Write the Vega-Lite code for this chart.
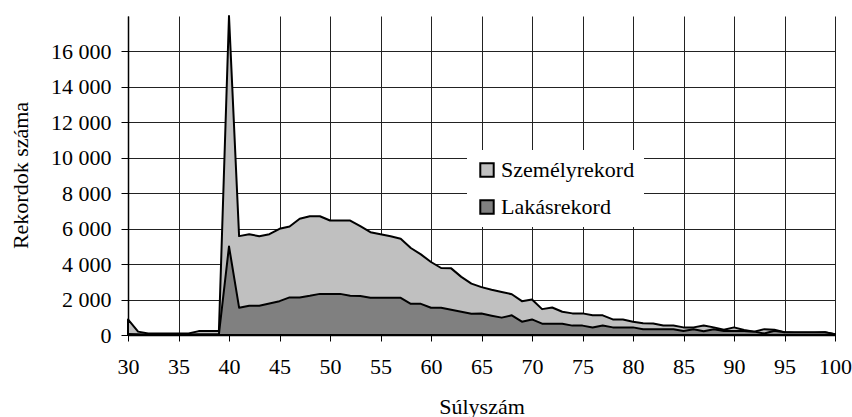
{
  "$schema": "https://vega.github.io/schema/vega-lite/v6.json",
  "width": 707,
  "height": 319,
  "autosize": "none",
  "padding": {"left": 128, "top": 16, "right": 17, "bottom": 82},
  "background": "white",
  "data": {
    "values": [
      {"w": 30, "szemely": 880, "lakas": 50},
      {"w": 31, "szemely": 190, "lakas": 40},
      {"w": 32, "szemely": 90, "lakas": 30},
      {"w": 33, "szemely": 90, "lakas": 30},
      {"w": 34, "szemely": 90, "lakas": 30},
      {"w": 35, "szemely": 90, "lakas": 30},
      {"w": 36, "szemely": 90, "lakas": 30},
      {"w": 37, "szemely": 220, "lakas": 40},
      {"w": 38, "szemely": 220, "lakas": 40},
      {"w": 39, "szemely": 220, "lakas": 40},
      {"w": 40, "szemely": 18000, "lakas": 5000},
      {"w": 41, "szemely": 5580, "lakas": 1540},
      {"w": 42, "szemely": 5690, "lakas": 1650},
      {"w": 43, "szemely": 5570, "lakas": 1650},
      {"w": 44, "szemely": 5690, "lakas": 1780},
      {"w": 45, "szemely": 5990, "lakas": 1910},
      {"w": 46, "szemely": 6120, "lakas": 2120},
      {"w": 47, "szemely": 6560, "lakas": 2120},
      {"w": 48, "szemely": 6700, "lakas": 2210},
      {"w": 49, "szemely": 6700, "lakas": 2320},
      {"w": 50, "szemely": 6460, "lakas": 2320},
      {"w": 51, "szemely": 6460, "lakas": 2320},
      {"w": 52, "szemely": 6460, "lakas": 2210},
      {"w": 53, "szemely": 6140, "lakas": 2200},
      {"w": 54, "szemely": 5800, "lakas": 2100},
      {"w": 55, "szemely": 5690, "lakas": 2100},
      {"w": 56, "szemely": 5570, "lakas": 2100},
      {"w": 57, "szemely": 5430, "lakas": 2100},
      {"w": 58, "szemely": 4910, "lakas": 1760},
      {"w": 59, "szemely": 4550, "lakas": 1760},
      {"w": 60, "szemely": 4120, "lakas": 1540},
      {"w": 61, "szemely": 3780, "lakas": 1540},
      {"w": 62, "szemely": 3760, "lakas": 1420},
      {"w": 63, "szemely": 3280, "lakas": 1310},
      {"w": 64, "szemely": 2900, "lakas": 1200},
      {"w": 65, "szemely": 2700, "lakas": 1210},
      {"w": 66, "szemely": 2550, "lakas": 1090},
      {"w": 67, "szemely": 2430, "lakas": 980},
      {"w": 68, "szemely": 2300, "lakas": 1110},
      {"w": 69, "szemely": 1910, "lakas": 750},
      {"w": 70, "szemely": 2000, "lakas": 880},
      {"w": 71, "szemely": 1460, "lakas": 640},
      {"w": 72, "szemely": 1550, "lakas": 640},
      {"w": 73, "szemely": 1310, "lakas": 640},
      {"w": 74, "szemely": 1220, "lakas": 530},
      {"w": 75, "szemely": 1220, "lakas": 530},
      {"w": 76, "szemely": 1120, "lakas": 420},
      {"w": 77, "szemely": 1110, "lakas": 540},
      {"w": 78, "szemely": 880, "lakas": 430},
      {"w": 79, "szemely": 880, "lakas": 430},
      {"w": 80, "szemely": 750, "lakas": 430},
      {"w": 81, "szemely": 660, "lakas": 320},
      {"w": 82, "szemely": 650, "lakas": 320},
      {"w": 83, "szemely": 540, "lakas": 320},
      {"w": 84, "szemely": 530, "lakas": 320},
      {"w": 85, "szemely": 430, "lakas": 220},
      {"w": 86, "szemely": 430, "lakas": 330},
      {"w": 87, "szemely": 540, "lakas": 210},
      {"w": 88, "szemely": 430, "lakas": 330},
      {"w": 89, "szemely": 300, "lakas": 220},
      {"w": 90, "szemely": 430, "lakas": 220},
      {"w": 91, "szemely": 280, "lakas": 220},
      {"w": 92, "szemely": 190, "lakas": 190},
      {"w": 93, "szemely": 330, "lakas": 80},
      {"w": 94, "szemely": 300, "lakas": 240},
      {"w": 95, "szemely": 160, "lakas": 160},
      {"w": 96, "szemely": 130, "lakas": 160},
      {"w": 97, "szemely": 130, "lakas": 160},
      {"w": 98, "szemely": 130, "lakas": 160},
      {"w": 99, "szemely": 150, "lakas": 160},
      {"w": 100, "szemely": 50, "lakas": 50}
    ]
  },
  "encoding": {
    "x": {
      "field": "w",
      "type": "quantitative",
      "scale": {"domain": [30, 100], "nice": false, "zero": false},
      "axis": {
        "title": "Súlyszám",
        "values": [30, 35, 40, 45, 50, 55, 60, 65, 70, 75, 80, 85, 90, 95, 100],
        "tickSize": 6,
        "labelPadding": 15,
        "labelFlush": false,
        "labelOverlap": false,
        "titleY": 78,
        "titleBaseline": "alphabetic"
      }
    }
  },
  "layer": [
    {
      "mark": {"type": "area", "stroke": "black", "strokeWidth": 2, "strokeJoin": "round"},
      "encoding": {
        "y": {
          "field": "szemely",
          "type": "quantitative",
          "scale": {"domain": [0, 18000], "nice": false},
          "axis": {
            "title": "Rekordok száma",
            "values": [0, 2000, 4000, 6000, 8000, 10000, 12000, 14000, 16000],
            "labelExpr": "replace(format(datum.value, ','), ',', ' ')",
            "labelOverlap": false,
            "tickSize": 7,
            "labelPadding": 10,
            "titleAngle": 270,
            "titleX": -108,
            "titleY": 159,
            "titleAlign": "center",
            "titleBaseline": "middle",
            "titleAnchor": null
          }
        },
        "color": {
          "datum": "Személyrekord",
          "scale": {"domain": ["Személyrekord", "Lakásrekord"], "range": ["#c0c0c0", "#808080"]},
          "legend": {
            "title": null,
            "orient": "none",
            "legendX": 339,
            "legendY": 134,
            "fillColor": "white",
            "padding": 9,
            "rowPadding": 15,
            "symbolType": "square",
            "symbolSize": 180,
            "symbolStrokeColor": "black",
            "symbolStrokeWidth": 2,
            "labelOffset": 3,
            "labelFont": "Liberation Serif",
            "labelFontSize": 22,
            "labelColor": "black"
          }
        }
      }
    },
    {
      "mark": {"type": "area", "stroke": "black", "strokeWidth": 2, "strokeJoin": "round"},
      "encoding": {
        "y": {
          "field": "lakas",
          "type": "quantitative",
          "axis": {
            "title": "Rekordok száma",
            "values": [0, 2000, 4000, 6000, 8000, 10000, 12000, 14000, 16000],
            "labelExpr": "replace(format(datum.value, ','), ',', ' ')",
            "labelOverlap": false,
            "tickSize": 7,
            "labelPadding": 10,
            "titleAngle": 270,
            "titleX": -108,
            "titleY": 159,
            "titleAlign": "center",
            "titleBaseline": "middle",
            "titleAnchor": null
          }
        },
        "color": {"datum": "Lakásrekord"}
      }
    }
  ],
  "config": {
    "view": {"stroke": null},
    "axis": {
      "labelFont": "Liberation Serif",
      "labelFontSize": 22,
      "labelColor": "black",
      "titleFont": "Liberation Serif",
      "titleFontSize": 22,
      "titleFontWeight": "normal",
      "titleColor": "black",
      "domainColor": "black",
      "domainWidth": 1.5,
      "tickColor": "black",
      "tickWidth": 1,
      "grid": true,
      "gridColor": "#222222",
      "gridWidth": 1,
      "gridOpacity": 1
    }
  }
}
